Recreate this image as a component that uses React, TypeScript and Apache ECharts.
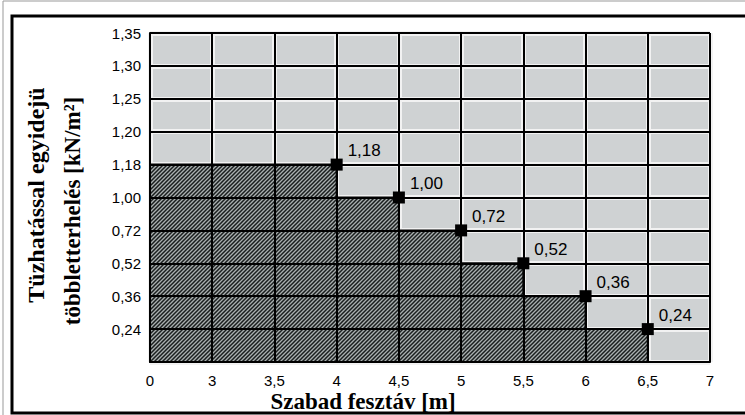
import React, { useEffect, useRef } from "react";
import * as echarts from "echarts";

// Axis tick values (the chart uses evenly spaced, non-linear ticks)
const xTicks = [0, 3, 3.5, 4, 4.5, 5, 5.5, 6, 6.5, 7];
const yTicks = [0, 0.24, 0.36, 0.52, 0.72, 1.0, 1.18, 1.2, 1.25, 1.3, 1.35];

// Step data: span end (m) and load (kN/m2)
const spanEnds = [4, 4.5, 5, 5.5, 6, 6.5];
const loads = [1.18, 1.0, 0.72, 0.52, 0.36, 0.24];

const yTitle1 = "Tüzhatással egyidejü";
const yTitle2 = "többletterhelés [kN/m²]";
const xTitle = "Szabad fesztáv [m]";

const fmtY = (v: number) => v.toFixed(2).replace(".", ",");
const fmtX = (v: number) => String(v).replace(".", ",");
const xi = (v: number) => xTicks.indexOf(v);
const yi = (v: number) => yTicks.indexOf(v);

const hatchSvg =
  "<svg xmlns='http://www.w3.org/2000/svg' width='4' height='4'>" +
  "<rect width='4' height='4' fill='#a9afaf'/>" +
  "<path d='M-1,1 L1,-1 M0,4 L4,0 M3,5 L5,3' stroke='#1a1e1e' stroke-width='1.5'/>" +
  "</svg>";
const hatchUrl = "data:image/svg+xml;charset=utf-8," + encodeURIComponent(hatchSvg);

export default function App() {
  const ref = useRef<HTMLDivElement>(null);
  useEffect(() => {
    if (!ref.current) return;
    const chart = echarts.init(ref.current, null, { renderer: "svg" });

    // Build step outline from data
    const areaPts: number[][] = [[0, yi(loads[0])]];
    spanEnds.forEach((e, i) => {
      areaPts.push([xi(e), yi(loads[i])]);
      const next = i + 1 < loads.length ? yi(loads[i + 1]) : 0;
      areaPts.push([xi(e), next]);
    });
    const markers = spanEnds.map((e, i) => ({
      value: [xi(e), yi(loads[i])],
      label: fmtY(loads[i]),
    }));

    const grid = { left: 150, top: 33, width: 560, height: 329 };
    const baseX = {
      type: "value" as const,
      position: "bottom" as const,
      min: 0,
      max: xTicks.length - 1,
      interval: 1,
    };
    const baseY = {
      type: "value" as const,
      position: "left" as const,
      min: 0,
      max: yTicks.length - 1,
      interval: 1,
    };

    chart.setOption({
      animation: false,
      backgroundColor: "#ffffff",
      grid: {
        ...grid,
        show: true,
        backgroundColor: "#cfd2d3",
        borderColor: "#000",
        borderWidth: 0,
      },
      xAxis: [
        {
          ...baseX,
          z: 0,
          axisLine: { show: false },
          axisTick: { show: false },
          axisLabel: { show: false },
          splitLine: { show: true, lineStyle: { color: "#f2f2f2", width: 5 } },
        },
        {
          ...baseX,
          z: 5,
          axisLine: { show: true, onZero: false, lineStyle: { color: "#000", width: 2 } },
          axisTick: { show: false },
          axisLabel: {
            show: true,
            margin: 11,
            color: "#000",
            fontFamily: "Liberation Sans, Arial, sans-serif",
            fontSize: 15,
            formatter: (v: number) => (xTicks[v] !== undefined ? fmtX(xTicks[v]) : ""),
          },
          splitLine: { show: true, lineStyle: { color: "#000", width: 2 } },
        },
      ],
      yAxis: [
        {
          ...baseY,
          z: 0,
          axisLine: { show: false },
          axisTick: { show: false },
          axisLabel: { show: false },
          splitLine: { show: true, lineStyle: { color: "#f2f2f2", width: 5 } },
        },
        {
          ...baseY,
          z: 5,
          axisLine: { show: true, onZero: false, lineStyle: { color: "#000", width: 2 } },
          axisTick: { show: false },
          axisLabel: {
            show: true,
            margin: 9,
            color: "#000",
            fontFamily: "Liberation Sans, Arial, sans-serif",
            fontSize: 15,
            formatter: (v: number) => (v === 0 || yTicks[v] === undefined ? "" : fmtY(yTicks[v])),
          },
          splitLine: { show: true, lineStyle: { color: "#000", width: 2 } },
        },
      ],
      series: [
        {
          type: "line",
          xAxisIndex: 1,
          yAxisIndex: 1,
          z: 2,
          data: areaPts,
          symbol: "none",
          lineStyle: { color: "#000", width: 2 },
          areaStyle: {
            opacity: 1,
            origin: "start",
            color: {
              image: hatchUrl,
              repeat: "repeat",
              imageWidth: 4,
              imageHeight: 4,
            } as any,
          },
        },
        {
          type: "scatter",
          xAxisIndex: 1,
          yAxisIndex: 1,
          z: 10,
          symbol: "rect",
          symbolSize: 12,
          itemStyle: { color: "#000", opacity: 1 },
          data: markers.map((m) => ({
            value: m.value,
            label: { formatter: m.label },
          })),
          label: {
            show: true,
            position: "right",
            distance: 5,
            offset: [0, -14],
            color: "#000",
            fontFamily: "Liberation Sans, Arial, sans-serif",
            fontSize: 17,
          },
        },
      ],
      graphic: [
        {
          type: "rect",
          shape: { x: 3, y: 1, width: 760, height: 430 },
          style: { fill: "none", stroke: "#999", lineWidth: 1 },
          silent: true,
        },
        {
          type: "rect",
          shape: { x: 12, y: 16, width: 760, height: 397 },
          style: { fill: "none", stroke: "#000", lineWidth: 3 },
          silent: true,
        },
        {
          type: "text",
          x: 36,
          y: 195,
          rotation: Math.PI / 2,
          style: {
            text: yTitle1,
            fill: "#000",
            font: "bold 24px 'Liberation Serif', 'Times New Roman', serif",
            align: "center",
            verticalAlign: "middle",
          },
        },
        {
          type: "text",
          x: 72,
          y: 211,
          rotation: Math.PI / 2,
          style: {
            text: yTitle2,
            fill: "#000",
            font: "bold 23px 'Liberation Serif', 'Times New Roman', serif",
            align: "center",
            verticalAlign: "middle",
          },
        },
        {
          type: "text",
          x: 363,
          y: 401,
          style: {
            text: xTitle,
            fill: "#000",
            font: "bold 23px 'Liberation Serif', 'Times New Roman', serif",
            align: "center",
            verticalAlign: "middle",
          },
        },
      ],
    });
    return () => chart.dispose();
  }, []);

  return (
    <div
      ref={ref}
      style={{ position: "fixed", left: 0, top: 0, width: 745, height: 415 }}
    />
  );
}
